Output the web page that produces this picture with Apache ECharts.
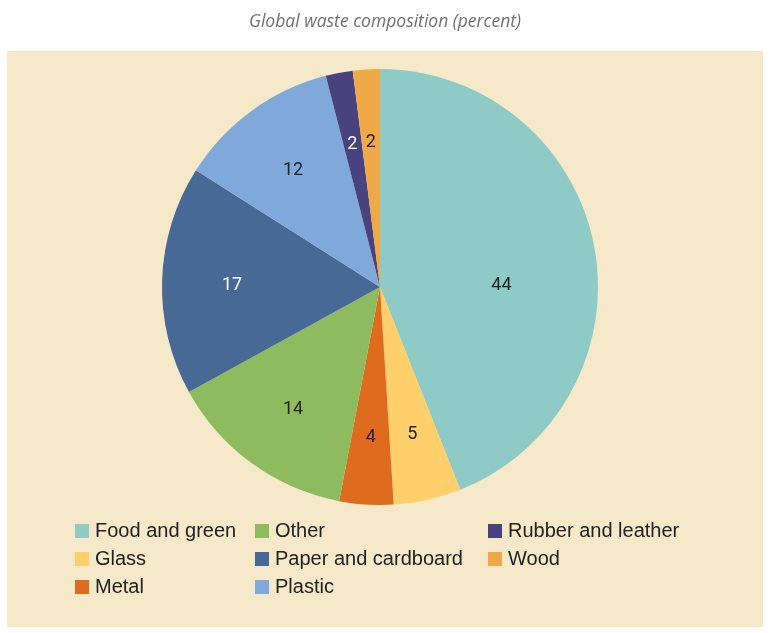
<!DOCTYPE html>
<html>
<head>
<meta charset="utf-8">
<script src="https://cdn.jsdelivr.net/npm/echarts@6/dist/echarts.min.js"></script>
<style>
  html, body { margin: 0; padding: 0; background: #fff; }
  #chart { width: 770px; height: 633px; }
</style>
</head>
<body>
<div id="chart"></div>
<script>
// data, clockwise from the top
var categories = ['Food and green', 'Glass', 'Metal', 'Other', 'Paper and cardboard', 'Plastic', 'Rubber and leather', 'Wood'];
var shares = [44, 5, 4, 14, 17, 12, 2, 2];
var colors = ['#8ecbc6', '#fecf6a', '#df6b1f', '#8fbb5f', '#466a95', '#80a9db', '#48437f', '#f0a947'];
var darkSlices = ['Paper and cardboard', 'Rubber and leather'];
var legendCols = [
  ['Food and green', 'Glass', 'Metal'],
  ['Other', 'Paper and cardboard', 'Plastic'],
  ['Rubber and leather', 'Wood']
];

var chart = echarts.init(document.getElementById('chart'));

var pieData = categories.map(function (name, i) {
  return { name: name, value: shares[i], itemStyle: { color: colors[i] } };
});

// label-only ring so labels sit at about two thirds of the radius
var labelData = categories.map(function (name, i) {
  var item = {
    name: name,
    value: shares[i],
    label: { color: darkSlices.indexOf(name) >= 0 ? '#ffffff' : '#222222', offset: [0, 3] }
  };
  if (i === 0) item.label.offset = [-24, 26];
  return item;
});

var legendLeft = [70, 250, 483];
var legends = legendCols.map(function (col, i) {
  return {
    data: col,
    orient: 'vertical',
    left: legendLeft[i],
    top: 516,
    itemWidth: 14,
    itemHeight: 14,
    itemGap: 8,
    icon: 'rect',
    selectedMode: false,
    textStyle: { fontSize: 20, lineHeight: 20, color: '#222', fontFamily: 'Liberation Sans, Arial, sans-serif', padding: [0, 0, 0, 1] }
  };
});

var option = {
  backgroundColor: '#ffffff',
  animation: false,
  color: colors,
  title: {
    text: 'Global waste composition (percent)',
    left: 'center',
    top: 8,
    textStyle: { fontFamily: 'Open Sans', fontStyle: 'italic', fontWeight: 'normal', fontSize: 17.5, color: '#707070' }
  },
  graphic: [{
    type: 'rect',
    z: -10,
    shape: { x: 7, y: 51, width: 756, height: 576 },
    style: { fill: '#f5e9c9' }
  }],
  legend: legends,
  series: [
    {
      name: 'Global waste composition',
      type: 'pie',
      center: [380, 287],
      radius: [0, 218],
      startAngle: 90,
      clockwise: true,
      label: { show: false },
      labelLine: { show: false },
      emphasis: { disabled: true },
      data: pieData
    },
    {
      name: 'labels',
      type: 'pie',
      center: [380, 287],
      radius: [0, 290],
      startAngle: 90,
      clockwise: true,
      silent: true,
      z: 5,
      itemStyle: { color: 'rgba(0,0,0,0)' },
      label: {
        show: true,
        position: 'inside',
        formatter: '{c}',
        fontSize: 18,
        fontFamily: 'Roboto, sans-serif',
        color: '#222'
      },
      labelLine: { show: false },
      emphasis: { disabled: true },
      data: labelData
    }
  ]
};

chart.setOption(option);
</script>
</body>
</html>
